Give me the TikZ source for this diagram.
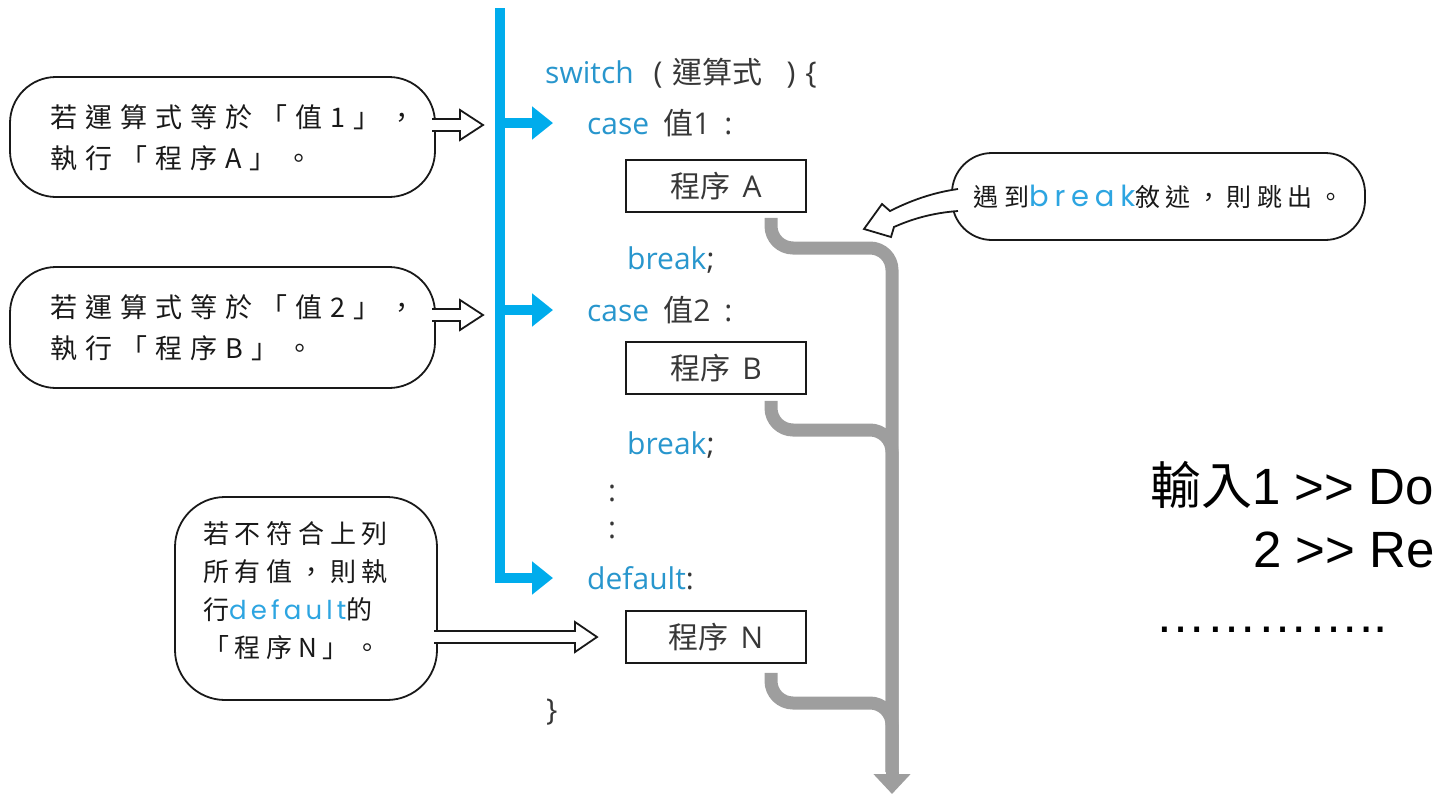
\documentclass[tikz,border=0pt]{standalone}
\usepackage{fontspec}
\setmainfont{Liberation Sans}
\newfontfamily\cjk{Noto Sans CJK TC}
\newfontfamily\codefont{Open Sans}
\newfontfamily\handwide[LetterSpace=30]{Noto Sans CJK TC}
\newfontfamily\handnarrow[LetterSpace=22]{Noto Sans CJK TC}
\newfontfamily\roundwide[LetterSpace=20]{Poppins}
\newfontfamily\roundnarrow[LetterSpace=16]{Poppins}
\usetikzlibrary{arrows.meta}

\definecolor{spine}{RGB}{0,172,236}
\definecolor{codeblue}{RGB}{40,150,205}
\definecolor{codegray}{RGB}{55,55,55}
\definecolor{flowgray}{RGB}{158,158,158}
\definecolor{ink}{RGB}{25,25,25}
\definecolor{notekw}{RGB}{45,165,225}

\newcommand{\kw}[1]{\textcolor{codeblue}{#1}}
% hollow callout arrow: #1 tip, #2 total length, #3 head length
\newcommand{\calloutarrow}[3]{%
  \draw[hollow] (#1) ++(-#2,-6) -- ++({#2-#3},0) -- ++(0,-9) -- (#1)
    -- ++(-#3,15) -- ++(0,-9) -- ++({#3-#2},0);}

\begin{document}
\begin{tikzpicture}[x=1pt,y=-1pt,
  code/.style={anchor=west, inner sep=0pt, text=codegray, font=\fontsize{30}{30}\codefont},
  stepbox/.style={draw=ink, line width=1.6pt, minimum width=180pt, minimum height=52pt,
    inner sep=0pt, text=codegray, font=\fontsize{30}{30}\codefont},
  spinearrow/.style={draw=spine, line width=10pt, -{Triangle[length=21pt,width=32pt]}},
  flow/.style={draw=flowgray, line width=13pt, rounded corners=22pt},
  bubble/.style={draw=ink, line width=1.8pt, fill=white, inner sep=0pt},
  hollow/.style={draw=ink, line width=1.8pt, fill=white, line join=miter},
  note/.style={text=ink, align=left, inner sep=0pt},
  bigtext/.style={anchor=west, inner sep=0pt, text=black, font=\fontsize{51}{51}\selectfont},
]
\useasboundingbox (0,0) rectangle (1445,795);

% ---- switch statement ----
\node[code] (sw) at (545,73) {\kw{switch}\hspace{20pt}(\hspace{10pt}{\cjk 運算式}\hspace{24pt})\hspace{10pt}\{};
\node[code] (case1) at (587,123) {\kw{case}\hspace{14pt}{\cjk 值}1\hspace{14pt}:};
\node[stepbox] (boxA) at (716,186) {{\cjk 程序}\hspace{12pt}A};
\node[code] (brk1) at (627,260) {\kw{break};};
\node[code] (case2) at (587,310) {\kw{case}\hspace{14pt}{\cjk 值}2\hspace{14pt}:};
\node[stepbox] (boxB) at (716,368) {{\cjk 程序}\hspace{12pt}B};
\node[code] (brk2) at (627,445) {\kw{break};};
\node[code] (gap1) at (608,493) {:};
\node[code] (gap2) at (608,530) {:};
\node[code] (dflt) at (587,578) {\kw{default}:};
\node[stepbox] (boxN) at (716,637) {{\cjk 程序}\hspace{12pt}N};
\node[code] (close) at (546,712) {\}};

% ---- blue dispatch spine ----
\coordinate (top) at (500,8);
\draw[spinearrow] (top) |- ([xshift=-34pt]dflt.west);
\draw[spinearrow] (top |- case1.west) -- ([xshift=-34pt]case1.west);
\draw[spinearrow] (top |- case2.west) -- ([xshift=-34pt]case2.west);

% ---- grey exit paths ----
\coordinate (jA) at (892,248);
\coordinate (jB) at (892,430);
\coordinate (jN) at (892,703);
\coordinate (neck) at (892,772);
\coordinate (exit) at (892,794);
\draw[flow] ([shift={(55,5)}]boxA.south) |- (jA) -- (neck);
\draw[flow] ([shift={(55,6)}]boxB.south) |- (jB) -- (neck);
\draw[flow] ([shift={(55,9)}]boxN.south) |- (jN) -- (neck);
\draw[draw=flowgray, line width=13pt, -{Triangle[length=20pt,width=36pt]}] (neck) -- (exit);

% ---- callout 1 ----
\node[bubble, minimum width=425pt, minimum height=120pt, rounded corners=46pt] (b1) at (222.5,137) {};
\node[note, text width=350pt, font=\fontsize{27}{41}\handwide] (n1) at (225,137.5)
  {若運算式等於「值1」，\\執行「程序A」。};
\coordinate (t1) at (483,125);
\calloutarrow{t1}{51}{23}

% ---- callout 2 ----
\node[bubble, minimum width=425pt, minimum height=121pt, rounded corners=46pt] (b2) at (222.5,327.5) {};
\node[note, text width=350pt, font=\fontsize{27}{41}\handwide] (n2) at (225,327.5)
  {若運算式等於「值2」，\\執行「程序B」。};
\coordinate (t2) at (483,315);
\calloutarrow{t2}{51}{23}

% ---- callout 3 ----
\node[bubble, minimum width=262pt, minimum height=203pt, rounded corners=50pt] (b3) at (306,598.5) {};
\node[note, anchor=west, text width=220pt, font=\fontsize{26}{38}\handnarrow] (n3) at (203,591)
  {若不符合上列\\所有值，則執\\行{\fontsize{26}{38}\roundnarrow\color{notekw}default}的\\「程序N」。};
\coordinate (t3) at (597,637);
\calloutarrow{t3}{163}{22}

% ---- callout 4 ----
\node[bubble, minimum width=413pt, minimum height=87pt, rounded corners=40pt, text=ink,
  font=\fontsize{25}{25}\handnarrow] (b4) at (1158.5,196.5)
  {遇到{\fontsize{29}{29}\roundwide\color{notekw}break}敘述，則跳出。};
\draw[hollow] (958,189) .. controls (930,193) and (908,202) .. (890,211) -- (882,204)
  -- (864,229) -- (891,237) -- (894,227) .. controls (912,219) and (932,213) .. (958,211);

% ---- side note ----
\node[bigtext] (in1) at (1150,485) {{\cjk 輸入}1 >{}> Do};
\node[bigtext] (in2) at (1253,550) {2 >{}> Re};
\node[bigtext] (more) at (1155,630) {…………..};
\end{tikzpicture}
\end{document}
